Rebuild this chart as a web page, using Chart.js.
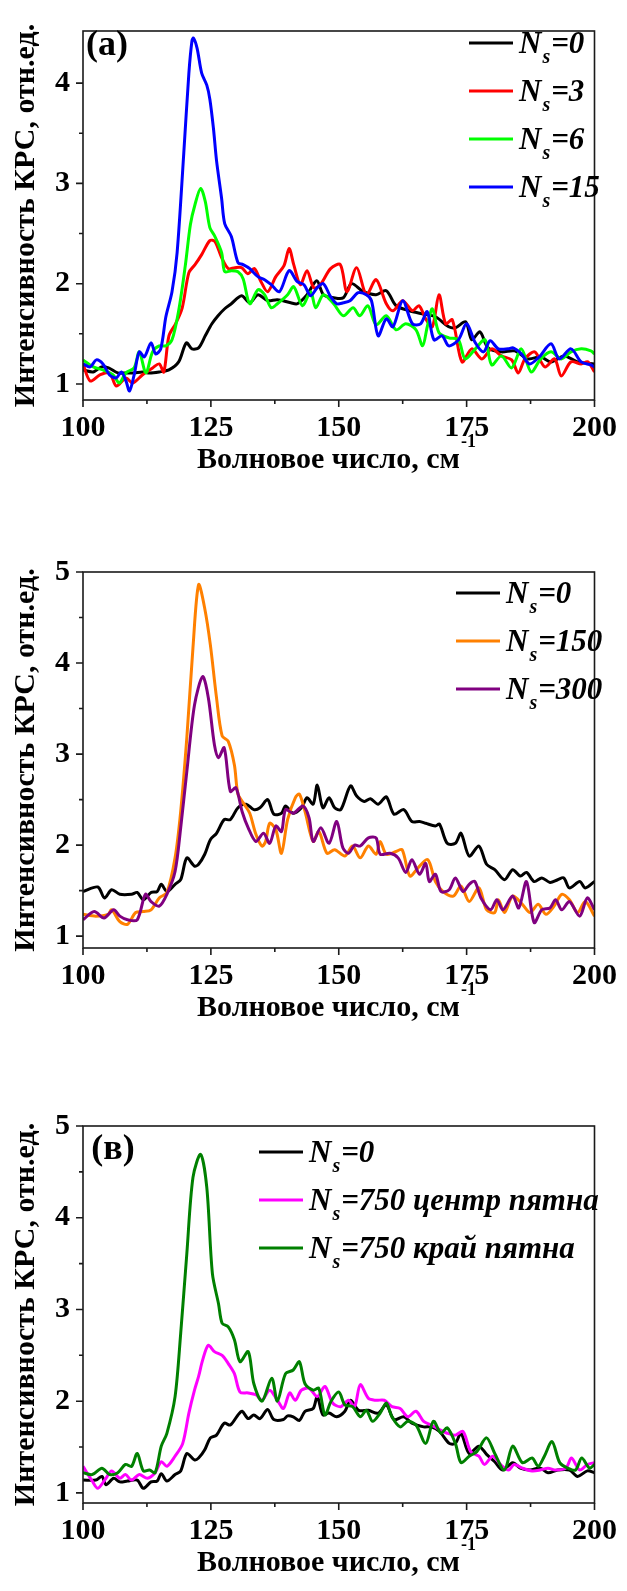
<!DOCTYPE html>
<html>
<head>
<meta charset="utf-8">
<script src="https://cdn.jsdelivr.net/npm/chart.js@4.4.1/dist/chart.umd.min.js"></script>
<style>
  html, body { margin: 0; padding: 0; background: #fff; width: 627px; height: 1591px; overflow: hidden; }
  canvas { position: absolute; left: 0; }
</style>
</head>
<body>
<canvas id="ca" width="627" height="500" style="top:0px"></canvas>
<canvas id="cb" width="627" height="510" style="top:530px"></canvas>
<canvas id="cc" width="627" height="531" style="top:1060px"></canvas>
<script>
// ticks
const xMajor = [100, 125, 150, 175, 200];
const xMinor = [112.5, 137.5, 162.5, 187.5];
const yMajorA = [1, 2, 3, 4];
const yMinorA = [1.5, 2.5, 3.5];
const yMajorBC = [1, 2, 3, 4, 5];
const yMinorBC = [1.5, 2.5, 3.5, 4.5];

// (a) Ns = 0
const aX0 = [100,102,103.6,105,106.8,108.4,110,111.6,113,114.9,
  116.8,118.7,120.2,121.3,122.6,123.9,125.2,126.4,127.7,129,
  131,132.6,134.2,136.1,138,140.6,141.9,143.8,145.7,147,
  149,150.9,152.5,154.8,157.3,159.3,161.2,163.8,166.3,168.9,
  171.5,172.8,174.8,176,177.6,179.2,181.8,184.4,187,189.5,
  191.5,194.1,196.7,200];
const aY0 = [1.14,1.12,1.17,1.16,1.11,1.11,1.11,1.12,1.11,1.12,
  1.14,1.22,1.41,1.35,1.36,1.48,1.6,1.68,1.75,1.8,
  1.88,1.81,1.89,1.83,1.84,1.81,1.8,1.89,2.03,1.89,
  1.86,1.86,2.0,1.92,1.89,1.93,1.78,1.73,1.7,1.67,
  1.57,1.56,1.62,1.44,1.52,1.36,1.32,1.33,1.25,1.27,
  1.22,1.28,1.22,1.2];
// (a) Ns = 3
const aX3 = [100,101.4,103.3,105.2,106.5,108.4,109.7,111.6,113.6,114.9,
  115.8,116.8,118.1,119.4,120.7,121.9,123.2,124.8,125.8,127.1,
  128.4,129.7,131,132.2,133.5,134.8,136.1,137.7,139.3,140.3,
  141.2,142.5,143.8,145.1,146.4,148.4,150.3,151.6,153.5,155.4,
  157.3,159.3,160.6,162.5,164.4,165.7,167,168.3,169.6,170.9,
  172.2,174.1,176,178,179.9,181.8,183.8,185.1,186.4,188.3,
  190.3,192.2,193.5,195.4,197.4,198.7,200];
const aY3 = [1.2,1.03,1.09,1.11,0.98,1.06,1.01,1.09,1.16,1.2,
  1.12,1.48,1.6,1.76,2.11,2.19,2.29,2.43,2.42,2.26,
  2.15,2.16,2.16,2.1,2.15,2.02,1.92,2.07,2.18,2.35,
  2.19,1.99,2.13,1.96,1.99,2.15,2.19,1.92,2.16,1.89,
  2.04,1.8,1.73,1.83,1.73,1.78,1.65,1.57,1.89,1.6,
  1.64,1.22,1.35,1.25,1.35,1.28,1.24,1.11,1.25,1.32,
  1.17,1.25,1.08,1.22,1.2,1.22,1.12];
// (a) Ns = 6
const aX6 = [100,102,103.9,105.9,107.1,108.4,110,111,112.3,113.6,
  114.9,116.2,117.4,118.7,120,121,121.9,123,123.9,124.8,
  125.8,127.1,127.7,129,130.3,131.3,132.6,134.2,135.5,136.8,
  138,140,141.2,142.9,144.5,145.5,147,149,150.9,152.8,
  154.1,155.7,157.3,159.3,161.2,163.1,165.1,166.4,167.3,168.3,
  169.6,171.5,173.4,174.7,176.7,178.6,179.9,181.8,183.8,185.7,
  187.6,189.5,191.5,193.5,195.4,197.4,199.3,200];
const aY6 = [1.24,1.17,1.14,1.09,1.01,1.11,1.16,1.32,1.11,1.32,
  1.38,1.38,1.44,1.73,2.18,2.59,2.79,2.95,2.82,2.56,
  2.47,2.31,2.12,2.13,2.12,2.05,1.8,1.94,1.89,1.76,
  1.8,1.89,1.97,1.78,1.92,1.76,1.89,1.8,1.68,1.76,
  1.68,1.78,1.59,1.68,1.54,1.6,1.54,1.38,1.57,1.75,
  1.51,1.46,1.44,1.25,1.35,1.44,1.19,1.28,1.16,1.35,
  1.12,1.25,1.32,1.25,1.32,1.35,1.33,1.3];
// (a) Ns = 15
const aX15 = [100,101.4,102.6,103.9,105.2,106.5,107.5,108.4,109.1,110,
  111,112,113.3,114.2,115.2,116.2,117.4,118.4,119.7,120.7,
  121.3,121.6,122.3,123.2,124.2,124.8,125.5,126.1,127.1,127.7,
  129,130.3,131.3,132.6,134.2,135.5,136.8,138.4,140.3,141.9,
  143.2,144.5,145.8,147,148.3,149.6,150.9,152.2,153.8,155.4,
  156.4,157.7,159.3,160.6,162.5,164.4,166,167.3,168.6,170.2,
  171.5,173.4,175,176.7,178.3,179.6,181.2,183.1,184.1,185.7,
  187.3,189.2,191.5,193.1,195.4,197.4,199.3,200];
const aY15 = [1.2,1.17,1.24,1.2,1.09,1.06,1.12,1.03,0.93,1.09,
  1.32,1.27,1.41,1.3,1.35,1.67,1.92,2.31,3.3,4.1,
  4.42,4.45,4.35,4.1,3.98,3.84,3.55,3.23,2.85,2.6,
  2.47,2.21,2.19,2.15,2.07,2.04,1.99,1.92,2.13,2.02,
  1.99,1.88,1.96,2.0,1.88,1.8,1.81,1.83,1.91,1.89,
  1.83,1.48,1.65,1.57,1.83,1.6,1.6,1.72,1.44,1.48,
  1.38,1.44,1.6,1.41,1.32,1.43,1.35,1.35,1.36,1.3,
  1.2,1.27,1.4,1.25,1.35,1.22,1.19,1.17];

// (b) Ns = 0
const bX0 = [100,102.9,104.2,105.6,107.2,109.5,110.6,111.8,113.3,114.5,
  115.3,116.4,118,119.1,120.3,121.8,122.6,123.8,124.9,126.1,
  127.6,128.8,130.3,131.9,133.4,134.6,136.1,137.3,138.8,139.6,
  141.1,142.7,143.8,145,145.8,146.9,148.1,149.2,150.4,152.3,
  153.5,155,156.2,157.7,159.3,160.8,162.7,164.3,165.8,167,
  168.9,169.7,171.2,172.8,173.9,175.5,177.4,178.9,180.5,182.4,
  184,185.5,186.7,188.2,189.7,191.3,192.8,194,195.1,197.1,
  198.2,200];
const bY0 = [1.49,1.54,1.42,1.51,1.46,1.46,1.48,1.4,1.48,1.49,
  1.57,1.49,1.57,1.62,1.86,1.77,1.79,1.9,2.06,2.13,
  2.28,2.28,2.41,2.45,2.39,2.41,2.5,2.34,2.35,2.43,
  2.35,2.41,2.52,2.45,2.66,2.41,2.52,2.41,2.39,2.65,
  2.54,2.48,2.51,2.45,2.53,2.34,2.39,2.26,2.26,2.24,
  2.21,2.23,2.02,2.02,2.13,1.88,1.99,1.79,1.73,1.62,
  1.73,1.66,1.7,1.6,1.64,1.59,1.62,1.64,1.53,1.6,
  1.53,1.6];
// (b) Ns = 150
const bX150 = [100,102.5,104.9,105.6,107.2,108.7,110.3,111.8,113.3,114.9,
  116.4,118,119.1,120.3,121.5,122.6,123.8,124.9,126.1,127.2,
  128.4,129.6,130.3,131.5,132.6,133.8,135,135.7,136.5,137.7,
  138.8,140,141.5,142.3,143.4,145,146.1,147.7,149.2,151.2,
  152.7,154.2,155.8,157.3,158.1,159.3,161.2,162.4,163.9,165.5,
  167.4,168.9,170.4,172.4,173.9,175.5,177.4,178.9,180.5,181.2,
  182.4,184,185.9,187.4,189,190.5,192.1,193.6,195.1,196.7,
  198.2,200];
const bY150 = [1.24,1.22,1.24,1.29,1.16,1.13,1.26,1.27,1.29,1.42,
  1.48,1.86,2.37,3.18,4.17,4.86,4.6,4.2,3.62,3.2,
  3.14,2.88,2.56,2.45,2.35,2.12,1.99,2.04,2.24,2.17,
  1.91,2.28,2.52,2.56,2.37,2.04,2.15,1.91,1.95,1.88,
  1.99,1.86,1.99,1.9,2.04,1.9,1.93,1.95,1.66,1.75,
  1.84,1.6,1.49,1.44,1.55,1.38,1.53,1.29,1.26,1.4,
  1.26,1.44,1.35,1.26,1.35,1.24,1.33,1.46,1.4,1.26,
  1.38,1.22];
// (b) Ns = 300
const bX300 = [100,102.2,104.1,106,107.2,108.7,110.6,112.2,113.3,114.9,
  116.4,118,119.1,120.3,121.8,123.4,124.5,125.7,126.5,127.6,
  128.8,129.9,131.1,132.3,133.8,135.3,136.5,137.7,138.8,139.6,
  141.1,143,144.2,145,146.5,148.1,149.6,150.8,151.9,153.1,
  154.2,155.8,157.3,158.1,160,161.6,163.1,164.3,165.8,167,
  167.7,168.9,170,171.6,172.8,174.3,175.5,176.6,177.8,179.7,
  180.9,182.1,184,185.2,186.7,188.2,189.7,191.3,192.4,193.6,
  195.1,197.1,198.6,200];
const bY300 = [1.18,1.27,1.2,1.29,1.22,1.18,1.18,1.46,1.38,1.33,
  1.46,1.71,2.19,2.81,3.54,3.85,3.62,3.1,2.96,3.07,
  2.59,2.63,2.37,2.19,2.04,2.13,2.02,2.21,2.15,2.39,
  2.35,2.43,2.3,2.04,2.19,2.02,2.26,1.97,1.91,2.0,
  1.99,2.08,2.08,1.9,1.91,1.86,1.7,1.84,1.68,1.8,
  1.6,1.68,1.49,1.51,1.64,1.49,1.57,1.6,1.42,1.29,
  1.4,1.29,1.44,1.31,1.6,1.15,1.29,1.31,1.4,1.29,
  1.38,1.22,1.42,1.29];

// (в) Ns = 0
const cX0 = [100,102.5,103.7,104.5,106,107.2,108.7,110.6,111.8,113.3,
  114.5,115.3,116.4,118,119.1,120.3,121.8,122.6,123.8,124.9,
  126.1,127.6,128.8,130.3,131.1,132.3,133.4,134.6,136.1,137.3,
  139.2,140,141.1,142.3,143.4,145,145.8,146.9,148.1,149.6,
  151.2,152.3,153.9,155.8,157.7,159.3,160.8,162.7,164.3,166.6,
  168.1,169.7,171.6,172.8,173.9,175.5,177.4,178.9,180.5,182,
  184,185.5,187.4,189.4,190.9,192.8,195.1,196.7,198.6,200];
const cY0 = [1.14,1.14,1.18,1.09,1.16,1.12,1.13,1.14,1.05,1.12,
  1.13,1.21,1.13,1.2,1.24,1.43,1.36,1.38,1.47,1.6,
  1.63,1.76,1.74,1.85,1.89,1.81,1.85,1.81,1.91,1.8,
  1.8,1.84,1.83,1.79,1.89,1.92,2.05,1.85,1.87,1.83,
  1.89,2.01,1.9,1.9,1.87,1.96,1.8,1.83,1.76,1.72,
  1.72,1.67,1.54,1.54,1.65,1.43,1.51,1.42,1.34,1.25,
  1.33,1.27,1.25,1.27,1.22,1.25,1.25,1.18,1.24,1.22];
// (в) Ns = 750, центр пятна
const cXc = [100,101.8,102.9,104.5,105.6,107.2,108.3,109.5,111,112.6,
  114.1,115.3,116.4,118,119.5,120.7,121.8,122.6,123.4,124.5,
  125.7,127.2,128.4,129.6,130.7,132.3,133.8,135,136.5,138,
  139.2,140.4,141.5,142.7,144.2,145.8,147.3,148.8,150.4,151.9,
  153.1,154.2,155.8,157.3,158.9,160.4,162,163.5,165.1,166.6,
  168.1,169.7,171.2,172.8,174.3,175.8,177.4,178.5,180.1,181.6,
  183.2,184.3,185.9,187.8,189.4,190.9,192.4,194.4,195.5,197.1,
  198.6,200];
const cYc = [1.29,1.13,1.05,1.16,1.24,1.16,1.2,1.14,1.2,1.16,
  1.22,1.34,1.29,1.4,1.54,1.87,2.12,2.27,2.45,2.61,
  2.54,2.5,2.41,2.3,2.1,2.09,2.07,2.01,2.12,2.01,
  1.92,2.09,2.01,2.12,2.14,2.05,2.16,1.98,1.94,2.01,
  1.94,2.18,2.03,2.01,2.01,1.94,1.92,1.83,1.89,1.78,
  1.74,1.69,1.65,1.63,1.67,1.45,1.4,1.31,1.4,1.31,
  1.25,1.31,1.27,1.24,1.25,1.27,1.25,1.27,1.38,1.25,
  1.31,1.33];
// (в) Ns = 750, край пятна
const cXe = [100,101.8,103.7,105.2,106.8,108.3,109.5,110.6,111.8,113,
  114.1,115.3,116.4,118,119.1,120.3,121.5,123,124.2,125.3,
  126.5,127.2,128.4,129.6,130.7,132.3,133.4,135,136.9,138,
  139.6,141.1,142.3,143.4,145,146.1,147.3,148.5,150,151.2,
  152.7,154.2,155.4,156.6,158.1,159.3,160.4,162,163.5,165.1,
  167,168.5,170,171.2,172.8,173.9,175.5,177,178.9,180.5,
  182.4,184,185.9,187.8,189,190.2,191.7,193.2,194.8,196.3,
  197.5,199,200];
const cYe = [1.22,1.2,1.27,1.2,1.22,1.31,1.29,1.43,1.24,1.25,
  1.22,1.51,1.65,2.05,2.74,3.61,4.44,4.69,4.33,3.39,
  3.06,2.85,2.81,2.67,2.43,2.54,2.19,2.0,2.25,2.0,
  2.3,2.34,2.43,2.19,2.12,2.14,1.85,2.0,2.1,1.96,
  1.94,1.83,1.9,1.78,1.87,1.98,1.83,1.72,1.78,1.74,
  1.54,1.78,1.65,1.71,1.54,1.33,1.4,1.45,1.6,1.43,
  1.25,1.51,1.33,1.38,1.29,1.4,1.56,1.33,1.27,1.25,
  1.38,1.27,1.31];

const FONT = "'Liberation Serif', 'Times New Roman', serif";
const xTitle = 'Волновое число, см';
const yTitle = 'Интенсивность КРС, отн.ед.';

function pts(xs, ys) {
  return xs.map((x, i) => ({ x: x, y: ys[i] }));
}

// frame, minor ticks, titles, legend with subscript
function decor(cfg) {
  return {
    id: 'decor',
    afterDraw(chart) {
      const { ctx, chartArea: a } = chart;
      const x = chart.scales.x, y = chart.scales.y;
      ctx.save();
      ctx.strokeStyle = '#1a1a1a';
      ctx.lineWidth = 1.6;
      ctx.strokeRect(a.left, a.top, a.right - a.left, a.bottom - a.top);
      ctx.beginPath();
      xMajor.forEach(v => { const p = x.getPixelForValue(v); ctx.moveTo(p, a.bottom); ctx.lineTo(p, a.bottom + 7); });
      xMinor.forEach(v => { const p = x.getPixelForValue(v); ctx.moveTo(p, a.bottom); ctx.lineTo(p, a.bottom + 4); });
      cfg.yMajor.forEach(v => { const p = y.getPixelForValue(v); ctx.moveTo(a.left, p); ctx.lineTo(a.left - 7, p); });
      cfg.yMinor.forEach(v => { const p = y.getPixelForValue(v); ctx.moveTo(a.left, p); ctx.lineTo(a.left - 4, p); });
      ctx.stroke();

      ctx.fillStyle = '#000';
      // x title with superscript
      ctx.textBaseline = 'middle';
      ctx.font = 'bold 30px ' + FONT;
      const w1 = ctx.measureText(xTitle).width;
      ctx.font = 'bold 18px ' + FONT;
      const w2 = ctx.measureText('-1').width;
      const x0 = 336 - (w1 + w2) / 2;
      ctx.font = 'bold 30px ' + FONT;
      ctx.textAlign = 'left';
      ctx.fillText(xTitle, x0, a.bottom + 60);
      ctx.font = 'bold 18px ' + FONT;
      ctx.fillText('-1', x0 + w1 + 1, a.bottom + 42);

      // y title
      ctx.save();
      ctx.translate(26, (a.top + a.bottom) / 2);
      ctx.rotate(-Math.PI / 2);
      ctx.textAlign = 'center';
      ctx.font = 'bold 30px ' + FONT;
      ctx.fillText(yTitle, 0, 0);
      ctx.restore();

      // panel tag
      if (cfg.tag) {
        ctx.textAlign = 'center';
        ctx.font = 'bold 36px ' + FONT;
        ctx.fillText(cfg.tag[0], cfg.tag[1], cfg.tag[2]);
      }

      // legend
      const L = cfg.legend;
      chart.data.datasets.forEach((ds, i) => {
        const ly = L.y + i * L.dy;
        ctx.strokeStyle = ds.borderColor;
        ctx.lineWidth = 2.8;
        ctx.beginPath();
        ctx.moveTo(L.x, ly);
        ctx.lineTo(L.x + 44, ly);
        ctx.stroke();
        ctx.textAlign = 'left';
        ctx.textBaseline = 'alphabetic';
        let tx = L.x + 50;
        ctx.font = 'italic bold 31px ' + FONT;
        ctx.fillText('N', tx, ly + 10);
        tx += ctx.measureText('N').width;
        ctx.font = 'italic bold 20px ' + FONT;
        ctx.fillText('s', tx + 1, ly + 20);
        tx += ctx.measureText('s').width + 2;
        ctx.font = 'italic bold 31px ' + FONT;
        ctx.fillText(ds.label.split('_s')[1], tx, ly + 10);
      });
      ctx.restore();
    }
  };
}

function makeChart(id, cfg) {
  const n = cfg.series.length;
  return new Chart(document.getElementById(id), {
    type: 'line',
    data: {
      datasets: cfg.series.map((s, i) => ({
        label: s.label,
        data: pts(s.xs, s.ys),
        borderColor: s.color,
        borderWidth: 3,
        pointRadius: 0,
        tension: 0.3,
        fill: false,
        order: n - i
      }))
    },
    options: {
      responsive: false,
      animation: false,
      events: [],
      layout: { padding: { left: 0, right: 25, top: cfg.padTop, bottom: cfg.padBottom } },
      plugins: { legend: { display: false }, tooltip: { enabled: false } },
      scales: {
        x: {
          type: 'linear',
          min: 100,
          max: 200,
          afterBuildTicks: s => { s.ticks = xMajor.map(v => ({ value: v })); },
          afterFit: s => { s.height = 70; },
          grid: { display: false, drawTicks: false },
          border: { display: false },
          ticks: { color: '#000', padding: 10, maxRotation: 0, font: { family: FONT, size: 30, weight: 'bold' } }
        },
        y: {
          type: 'linear',
          min: cfg.yMin,
          max: cfg.yMax,
          afterBuildTicks: s => { s.ticks = cfg.yMajor.map(v => ({ value: v })); },
          afterFit: s => { s.width = 83; },
          grid: { display: false, drawTicks: false },
          border: { display: false },
          ticks: { color: '#000', padding: 13, font: { family: FONT, size: 30, weight: 'bold' } }
        }
      }
    },
    plugins: [decor(cfg)]
  });
}

makeChart('ca', {
  yMin: 0.84, yMax: 4.52, yMajor: yMajorA, yMinor: yMinorA,
  padTop: 16, padBottom: 30,
  tag: ['(a)', 107, 46],
  legend: { x: 469, y: 43, dy: 48 },
  series: [
    { label: 'N_s=0', color: '#000000', xs: aX0, ys: aY0 },
    { label: 'N_s=3', color: '#ff0000', xs: aX3, ys: aY3 },
    { label: 'N_s=6', color: '#00ff00', xs: aX6, ys: aY6 },
    { label: 'N_s=15', color: '#0000ff', xs: aX15, ys: aY15 }
  ]
});

makeChart('cb', {
  yMin: 0.87, yMax: 5, yMajor: yMajorBC, yMinor: yMinorBC,
  padTop: 42, padBottom: 22,
  tag: null,
  legend: { x: 456, y: 63, dy: 48 },
  series: [
    { label: 'N_s=0', color: '#000000', xs: bX0, ys: bY0 },
    { label: 'N_s=150', color: '#ff8000', xs: bX150, ys: bY150 },
    { label: 'N_s=300', color: '#800080', xs: bX300, ys: bY300 }
  ]
});

makeChart('cc', {
  yMin: 0.89, yMax: 5, yMajor: yMajorBC, yMinor: yMinorBC,
  padTop: 66, padBottom: 18,
  tag: ['(в)', 113, 90],
  legend: { x: 259, y: 92, dy: 48 },
  series: [
    { label: 'N_s=0', color: '#000000', xs: cX0, ys: cY0 },
    { label: 'N_s=750 центр пятна', color: '#ff00ff', xs: cXc, ys: cYc },
    { label: 'N_s=750 край пятна', color: '#008000', xs: cXe, ys: cYe }
  ]
});
</script>
</body>
</html>
